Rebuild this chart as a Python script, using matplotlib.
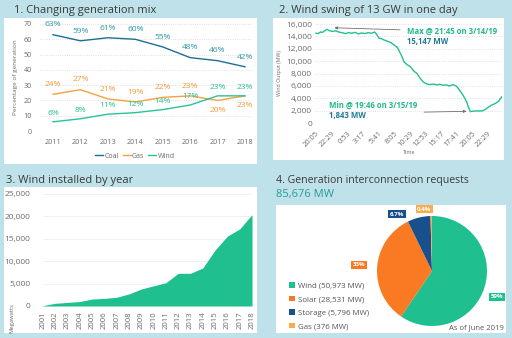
import math
import matplotlib
matplotlib.use('Agg')
import matplotlib.pyplot as plt
from matplotlib.patches import Rectangle

plt.rcParams['font.family'] = ['Open Sans', 'DejaVu Sans']

W, H = 512, 338
BG = '#bfe2ea'
TITLE_C = '#3a3a3a'
TICK_C = '#6b6b6b'
GRID_C = '#d6d6d6'

# generation mix by year (percent)
mix_years = [2011, 2012, 2013, 2014, 2015, 2016, 2017, 2018]
coal_pct = [63, 59, 61, 60, 55, 48, 46, 42]
gas_pct = [24, 27, 21, 19, 22, 23, 20, 23]
wind_pct = [6, 8, 11, 12, 14, 17, 23, 23]
gas_label_below = [False, False, False, False, False, False, True, True]

# wind output, minutes after 20:05 on 3/14/19
swing_minutes = [0, 20, 40, 60, 80, 100, 120, 150, 180, 210, 240, 270, 300, 330,
                 360, 390, 420, 450, 480, 510, 540, 560, 580, 600, 630, 660, 690,
                 720, 750, 770, 790, 810, 840, 870, 900, 930, 960, 990, 1020,
                 1050, 1080, 1110, 1140, 1170, 1200, 1230, 1260, 1290, 1310,
                 1330, 1350, 1370, 1390, 1405, 1421, 1440, 1470, 1500, 1530,
                 1560, 1590, 1620, 1650, 1680, 1710]
swing_mw = [14500, 14450, 14700, 14650, 14900, 15147, 14950, 14800, 14900, 14700,
            14600, 14450, 14600, 14500, 14650, 14400, 14550, 14450, 14600, 14500,
            14700, 14300, 13700, 13650, 13400, 13200, 13000, 12600, 12200, 11500,
            10800, 9900, 9400, 9100, 8400, 8000, 7200, 6600, 6300, 6200, 6300,
            6150, 6250, 6100, 6150, 6000, 6200, 6000, 5600, 5100, 4600, 4000,
            3300, 2500, 1843, 1900, 1950, 1950, 1950, 2200, 2600, 2900, 3150,
            3500, 4200]
swing_start = (20, 5)
swing_tick_step = 144

# installed wind capacity
cap_years = list(range(2001, 2019))
cap_mw = [100, 600, 800, 1000, 1550, 1700, 1950, 2700, 3800, 4500, 5200, 7300,
          7300, 8500, 12500, 15600, 17200, 20400]

# interconnection queue
queue_names = ['Wind', 'Solar', 'Storage', 'Gas']
queue_mw = [50973, 28531, 5796, 376]
queue_colors = ['#1fbf8f', '#f97a22', '#17508c', '#fbac4e']


def px_box(x0, y0, x1, y1):
    return [x0 / W, 1 - y1 / H, (x1 - x0) / W, (y1 - y0) / H]


def white_card(x0, y0, x1, y1):
    r = Rectangle((x0 / W, 1 - y1 / H), (x1 - x0) / W, (y1 - y0) / H,
                  transform=fig.transFigure, facecolor='white',
                  edgecolor='none', zorder=-1)
    fig.add_artist(r)


def fig_text(x, y, s, **kw):
    fig.text(x / W, 1 - y / H, s, va='center', **kw)


def plain_axes(ax):
    ax.set_facecolor('none')
    for sp in ax.spines.values():
        sp.set_visible(False)
    ax.tick_params(length=0, colors=TICK_C)


fig = plt.figure(figsize=(W / 100, H / 100), dpi=100)
fig.patch.set_facecolor(BG)

white_card(4, 18, 257, 164)
white_card(273, 18, 504, 160)
white_card(4, 187, 257, 333)
white_card(276, 205, 506, 333)

fig_text(14, 10, '1. Changing generation mix', fontsize=8, color=TITLE_C)
fig_text(279, 10, '2. Wind swing of 13 GW in one day', fontsize=8, color=TITLE_C)
fig_text(6, 180, '3. Wind installed by year', fontsize=8, color=TITLE_C)
fig_text(276, 181, '4. Generation interconnection requests', fontsize=7.6,
         color=TITLE_C)
fig_text(276, 194, '{:,} MW'.format(sum(queue_mw)), fontsize=8, color='#2a9a9a')

# ---- 1. generation mix lines
ax1 = fig.add_axes(px_box(40, 24, 252, 131))
plain_axes(ax1)
ax1.plot(mix_years, coal_pct, color='#1d6f93', lw=1, label='Coal')
ax1.plot(mix_years, gas_pct, color='#f5a142', lw=1, label='Gas')
ax1.plot(mix_years, wind_pct, color='#28c39a', lw=1, label='Wind')
for x, v in zip(mix_years, coal_pct):
    ax1.annotate('{}%'.format(v), (x, v), xytext=(0, 4.5), textcoords='offset points',
                 ha='center', va='bottom', fontsize=6, color='#2b97a3')
for x, v, below in zip(mix_years, gas_pct, gas_label_below):
    ax1.annotate('{}%'.format(v), (x, v), xytext=(0, -4.5 if below else 4.5),
                 textcoords='offset points', ha='center',
                 va='top' if below else 'bottom', fontsize=6, color='#f39a3c')
for x, v in zip(mix_years, wind_pct):
    ax1.annotate('{}%'.format(v), (x, v), xytext=(0, 3.5), textcoords='offset points',
                 ha='center', va='bottom', fontsize=6, color='#2abf95')
ax1.set_xlim(2010.526, 2018.255)
ax1.set_ylim(0, 70)
ax1.set_xticks(mix_years)
ax1.set_yticks(range(0, 71, 10))
ax1.tick_params(labelsize=5.2, pad=6)
ax1.grid(axis='y', color=GRID_C, ls=':', lw=0.6)
ax1.set_axisbelow(True)
ax1.set_ylabel('Percentage of generation', fontsize=4.6, color=TICK_C, labelpad=4)
ax1.legend(loc='center', bbox_to_anchor=(135 / W, 1 - 156 / H),
           bbox_transform=fig.transFigure, ncol=3, frameon=False, fontsize=5,
           handlelength=1.1, handletextpad=0.2, columnspacing=0.6,
           labelcolor=TICK_C)

# ---- 2. wind swing
ax2 = fig.add_axes(px_box(315, 24, 503, 123))
plain_axes(ax2)
ax2.plot(swing_minutes, swing_mw, color='#21c08f', lw=1)
ax2.set_xlim(-9, 1722)
ax2.set_ylim(0, 16000)
ax2.set_yticks(range(0, 16001, 2000))
ax2.set_yticklabels(['{:,}'.format(v) for v in range(0, 16001, 2000)])
ticks = list(range(0, 1600, swing_tick_step))
labels = []
for t in ticks:
    m = (swing_start[0] * 60 + swing_start[1] + t) % (24 * 60)
    labels.append('{}:{:02d}'.format(m // 60, m % 60))
ax2.set_xticks(ticks)
ax2.set_xticklabels(labels, rotation=45, ha='right', rotation_mode='anchor')
ax2.tick_params(axis='y', labelsize=6, pad=2)
ax2.tick_params(axis='x', labelsize=5.4, pad=5)
ax2.grid(axis='y', color=GRID_C, ls=':', lw=0.6)
ax2.set_ylabel('Wind Output (MW)', fontsize=3.8, color=TICK_C, labelpad=3)
ax2.set_xlabel('Time', fontsize=4, color=TICK_C, labelpad=1)

i_max = swing_mw.index(max(swing_mw))
i_min = swing_mw.index(min(swing_mw))
ax2.annotate('', xy=(swing_minutes[i_max] + 45, max(swing_mw) + 250),
             xytext=(800, max(swing_mw) - 100),
             arrowprops=dict(arrowstyle='-|>', color='#707070', lw=0.6,
                             mutation_scale=4))
ax2.text(840, 14870, 'Max @ 21:45 on 3/14/19', fontsize=5.6, fontweight='bold',
         color='#20b98c', va='center')
ax2.text(840, 13100, '{:,} MW'.format(max(swing_mw)), fontsize=5.6,
         fontweight='bold', color='#1f7a99', va='center')
ax2.text(117, 2800, 'Min @ 19:46 on 3/15/19', fontsize=5.6, fontweight='bold',
         color='#20b98c', va='center')
ax2.text(117, 1150, '{:,} MW'.format(min(swing_mw)), fontsize=5.6,
         fontweight='bold', color='#1f7a99', va='center')
ax2.annotate('', xy=(swing_minutes[i_min] - 10, 1900), xytext=(970, 1750),
             arrowprops=dict(arrowstyle='-|>', color='#707070', lw=0.6,
                             mutation_scale=4))

# ---- 3. wind installed
ax3 = fig.add_axes(px_box(43, 194, 252, 306))
plain_axes(ax3)
ax3.fill_between(cap_years, cap_mw, 0, color='#1fbf8f', lw=0)
ax3.set_xlim(2001, 2018)
ax3.set_ylim(0, 25000)
ax3.set_yticks(range(0, 25001, 5000))
ax3.set_yticklabels(['{:,}'.format(v) for v in range(0, 25001, 5000)])
ax3.set_xticks(cap_years)
ax3.set_xticklabels([str(y) for y in cap_years], rotation=90)
ax3.tick_params(axis='y', labelsize=6, pad=9)
ax3.tick_params(axis='x', labelsize=5.6, pad=4)
ax3.grid(axis='y', color='#ececec', ls='-', lw=0.5)
ax3.set_axisbelow(True)
fig.text(12 / W, 1 - 318 / H, 'Megawatts', rotation=90, fontsize=4.2,
         color=TICK_C, ha='center', va='center')

# ---- 4. interconnection pie
ax4 = fig.add_axes(px_box(377, 216, 487, 326))
total = sum(queue_mw)
wedges, _ = ax4.pie(queue_mw, colors=queue_colors, startangle=90,
                    counterclock=False, wedgeprops=dict(lw=0))
ax4.set_xlim(-1, 1)
ax4.set_ylim(-1, 1)
label_xy = [(1.18, -0.47), (-1.33, 0.11), (-0.64, 1.03), (-0.14, 1.12)]
for v, c, (lx, ly) in zip(queue_mw, queue_colors, label_xy):
    pct = v / total * 100
    if pct >= 10:
        s = '{:.0f}%'.format(pct)
    else:
        s = '{:.1f}%'.format(math.floor(pct * 10) / 10)
    ax4.text(lx, ly, s, ha='center', va='center', fontsize=4.4,
             fontweight='bold', color='white', clip_on=False,
             bbox=dict(boxstyle='square,pad=0.25', fc=c, ec='none'))
legend_labels = ['{} ({:,} MW)'.format(n, v) for n, v in zip(queue_names, queue_mw)]
ax4.legend(wedges, legend_labels, loc='upper left',
           bbox_to_anchor=(282 / W, 1 - 275 / H), bbox_transform=fig.transFigure,
           frameon=False, fontsize=5.7, handlelength=0.7, handleheight=0.7,
           handletextpad=0.4, labelspacing=0.75, labelcolor='#555555')
fig.text(504 / W, 1 - 328 / H, 'As of June 2019', fontsize=5.5, color='#555555',
         ha='right', va='center')

fig.savefig('out.png', dpi=100, facecolor=BG)
